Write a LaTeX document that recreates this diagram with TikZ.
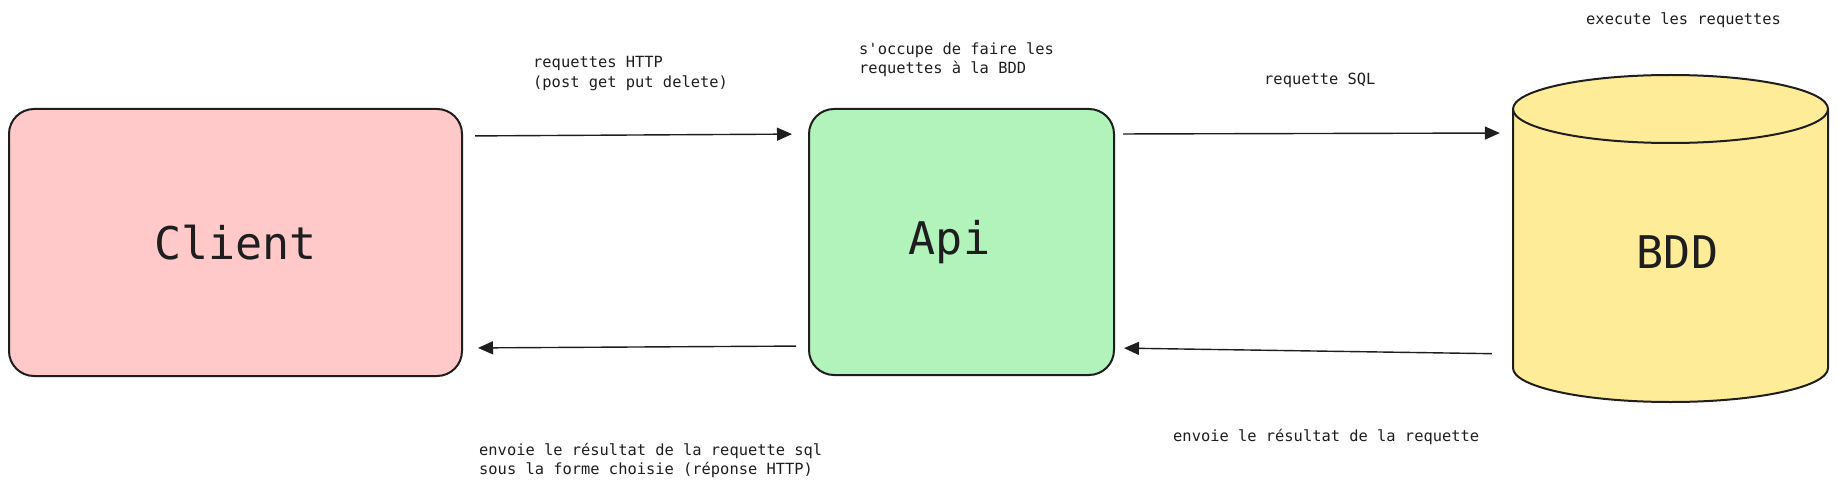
\documentclass[tikz,border=0pt]{standalone}
\usepackage{fontspec}
\newfontfamily\monofam{DejaVu Sans Mono}
\usetikzlibrary{arrows.meta,calc}
\definecolor{ink}{HTML}{1E1E1E}
\definecolor{clientfill}{HTML}{FFC9C9}
\definecolor{apifill}{HTML}{B2F2BB}
\definecolor{bddfill}{HTML}{FFEC99}
\begin{document}
\begin{tikzpicture}[x=1pt,y=-1pt,
  box/.style={draw=ink, line width=2pt, rounded corners=25pt, inner sep=0pt},
  bigtext/.style={text=ink, font=\monofam\fontsize{45}{54}\selectfont},
  lbl/.style={text=ink, font=\monofam\fontsize{15.4}{19.5}\selectfont, inner sep=0pt, anchor=west, align=left},
  arr/.style={draw=ink, line width=1.4pt, -{Triangle[length=15pt,width=13pt]}}]
\useasboundingbox[fill=white] (0,0) rectangle (1838,489);

% boxes
\node[box, fill=clientfill, minimum width=453pt, minimum height=267pt, bigtext] (client) at (235.5,242.5) {Client};
\node[box, fill=apifill, minimum width=305pt, minimum height=266pt,
      label={[bigtext, xshift=-12pt]center:Api}] (api) at (961.5,242) {};

% database cylinder
\fill[bddfill] (1513,109) rectangle (1828,368);
\fill[bddfill] (1670.5,368) ellipse [x radius=157.5, y radius=34];
\draw[ink, line width=2pt] (1513,109) -- (1513,368)
   arc[start angle=180, end angle=0, x radius=157.5, y radius=34] -- (1828,109);
\draw[ink, line width=2pt, fill=bddfill] (1670.5,109) ellipse [x radius=157.5, y radius=34];
\node[minimum width=315pt, minimum height=327pt, inner sep=0pt,
      label={[bigtext, xshift=7pt, yshift=-14pt]center:BDD}] (bdd) at (1670.5,238.5) {};

% connectors
\draw[arr, shorten <=12pt, shorten >=16pt] (client.east |- 0,136) -- (api.west |- 0,134);
\draw[arr, shorten <=8pt, shorten >=13pt] (api.east |- 0,134) -- (bdd.west |- 0,133);
\draw[arr, shorten <=21pt, shorten >=9pt] (bdd.west |- 0,354) -- (api.east |- 0,348);
\draw[arr, shorten <=12pt, shorten >=15pt] (api.west |- 0,346) -- (client.east |- 0,348);

% labels
\node[lbl] (lhttp) at (533,73.5) {requettes HTTP\\(post get put delete)};
\node[lbl] (lapi) at (859,59.5) {s'occupe de faire les\\requettes à la BDD};
\node[lbl] (lsql) at (1264,80) {requette SQL};
\node[lbl] (lexec) at (1586,20) {execute les requettes};
\node[lbl] (lres1) at (479,460.5) {envoie le résultat de la requette sql\\sous la forme choisie (réponse HTTP)};
\node[lbl] (lres2) at (1173,437) {envoie le résultat de la requette};
\end{tikzpicture}
\end{document}
